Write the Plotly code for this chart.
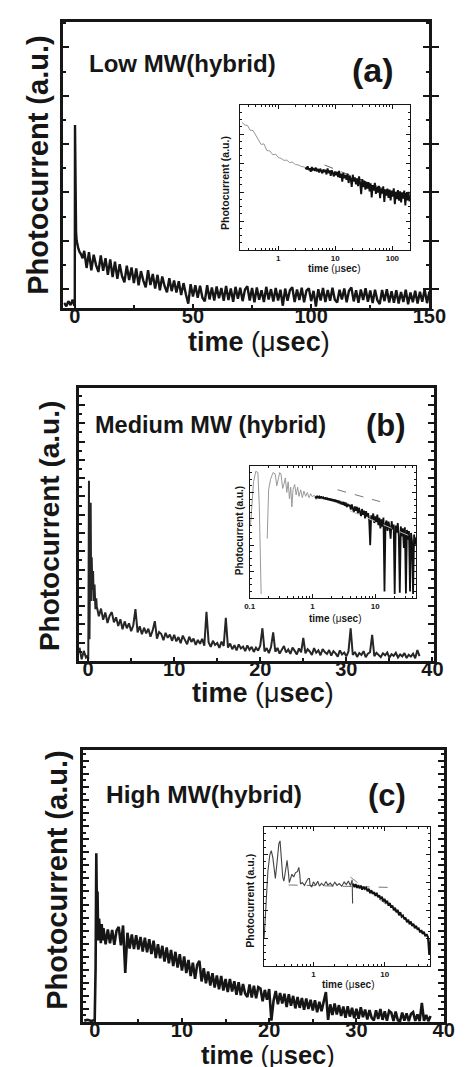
import numpy as np
import plotly.graph_objects as go

W, H = 465, 1067

# ---------------- DATA ----------------
# Panel (a) main trace (time in usec, photocurrent in arbitrary units 0-100)
t_a_early = [-4.5, -3.6, -2.7, -1.8, -0.9, -0.2, 0.0, 0.1, 0.2, 0.35, 0.55, 0.8, 1.1, 1.5, 2.0, 2.6, 3.3]
y_a_early = [1.8, 0.6, 2.4, 1.0, 2.9, 0.8, 1.0, 64.0, 40.0, 31.0, 26.5, 23.5, 22.0, 20.8, 19.6, 18.9, 17.4]
y_a_late = [
    20.0, 14.0, 19.5, 13.2, 18.6, 15.0, 12.6, 18.4, 13.0, 17.4,
    11.6, 17.0, 10.8, 16.2, 10.2, 15.3, 11.1, 9.0, 14.8, 9.8,
    14.2, 8.7, 13.8, 7.9, 12.9, 9.6, 7.2, 13.2, 8.0, 11.9,
    6.8, 11.6, 6.2, 11.0, 7.6, 5.5, 10.4, 5.9, 9.6, 5.4,
    9.4, 4.5, 8.7, 4.8, 1.5, 8.3, 4.0, 8.0, 3.6, 7.8,
    3.6, 2.3, 8.0, 3.0, 7.2, 2.6, 7.5, 3.4, 7.0, 2.5,
    7.7, 2.8, 6.8, 2.2, 7.4, 3.2, 7.1, 2.4, 6.5, 7.6,
    2.6, 7.0, 2.0, 7.2, 2.9, 6.2, 2.1, 7.4, 3.0, 6.6,
    2.3, 7.0, 2.6, 6.4, 0.8, 6.8, 2.5, 6.2, 7.3, 2.1,
    6.5, 2.8, 7.1, 2.0, 6.1, 6.9, 2.4, 6.0, 0.5, 6.6,
    2.6, 7.0, 2.1, 6.3, 2.5, 7.1, 2.9, 1.9, 6.4, 3.0,
    6.8, 2.0, 6.0, 7.2, 2.3, 6.2, 1.8, 6.5, 2.8, 6.9,
    2.2, 6.1, 1.7, 6.4, 2.7, 1.4, 6.3, 2.4, 6.6, 1.9,
    5.9, 1.8, 6.2, 1.6, 5.6, 2.1, 6.4, 1.3, 5.4, 2.0,
    6.0, 1.6, 5.7, 2.2, 6.6, 1.7, 5.8]
t_a_late = list(np.arange(4.0, 150.01, 1.0))

# Panel (a) inset (log time)
ti_a_early = [0.23, 0.26, 0.29, 0.32, 0.36, 0.40, 0.45, 0.50, 0.56, 0.63, 0.71, 0.80,
              0.90, 1.0, 1.12, 1.26, 1.41, 1.58, 1.78, 2.0, 2.24, 2.51, 2.82, 3.16]
yi_a_early = [88, 86.2, 85.8, 82.6, 82.4, 79.1, 76.4, 72.8, 73.2, 68.6, 68.3, 65.7,
              66.1, 63.8, 63.2, 61.8, 62.0, 60.3, 60.6, 58.9, 58.7, 57.6, 57.3, 56.2]
yi_a_late = [
    56.9, 55.6, 57.8, 55.1, 56.4, 53.9, 57.2, 55.3, 56.0, 54.6,
    56.8, 54.2, 55.9, 53.4, 56.1, 54.7, 52.9, 55.6, 53.8, 55.2,
    52.1, 56.3, 53.0, 54.9, 51.2, 55.0, 52.6, 50.8, 54.1, 51.5,
    53.9, 50.3, 54.6, 49.8, 52.7, 47.1, 53.2, 49.6, 51.8, 48.4,
    52.6, 46.2, 51.3, 49.0, 43.5, 51.9, 47.3, 50.1, 45.2, 49.4,
    44.1, 50.8, 46.0, 38.5, 48.9, 43.4, 47.7, 41.6, 47.0, 42.3,
    46.8, 40.5, 45.9, 36.2, 44.7, 41.0, 46.3, 38.7, 43.5, 39.6,
    44.2, 35.8, 42.6, 38.9, 43.9, 33.1, 41.8, 37.5, 42.4, 36.0,
    41.7, 34.2, 40.9, 36.8, 42.5, 31.6, 40.2, 35.1, 41.3, 34.0,
    40.4, 32.9, 39.8, 35.4, 41.0, 30.8, 39.3, 34.2, 40.1, 33.6]
ti_a_late = list(np.geomspace(3.0, 200.0, len(yi_a_late)))
fit_a_t = [6.5, 200]
fit_a_y = [58.6, 35.0]

# Panel (b) main trace
t_b_early = [-1.0, -0.75, -0.5, -0.25, -0.05, 0.02, 0.1, 0.16, 0.24, 0.3, 0.36, 0.42, 0.5, 0.58, 0.66, 0.75, 0.85, 0.95]
y_b_early = [4.9, 0.6, 3.7, 1.3, 2.0, 0.5, 66, 8, 40, 58, 22, 38, 26, 33, 22, 28, 19, 23]
y_b_late = [
    20.1, 16.4, 19.2, 15.1, 17.8, 13.9, 16.6, 17.9, 14.2, 16.0, 12.8, 15.3,
    11.6, 14.5, 12.0, 13.8, 10.9, 13.1, 19.0, 10.5, 12.7, 9.8, 12.2, 10.1,
    11.8, 8.9, 11.2, 14.6, 8.2, 10.6, 9.9, 7.6, 10.3, 8.5, 9.7, 7.4,
    9.6, 7.2, 8.8, 6.5, 9.3, 7.8, 6.1, 8.9, 7.0, 8.2, 5.9, 7.7,
    6.3, 8.1, 5.6, 18.0, 6.8, 5.2, 7.4, 5.9, 6.6, 4.8, 7.1, 5.5,
    15.8, 4.9, 6.4, 4.3, 5.8, 3.9, 6.1, 4.6, 5.3, 3.6, 5.7, 4.1,
    5.2, 3.3, 4.9, 3.8, 5.6, 12.0, 3.5, 4.7, 2.9, 5.1, 10.5, 3.4,
    4.8, 2.7, 4.4, 5.5, 3.1, 4.2, 2.6, 4.9, 3.7, 2.4, 4.6, 3.2,
    8.5, 2.8, 4.3, 3.5, 2.2, 4.7, 3.0, 3.9, 2.1, 4.4, 3.3, 2.6,
    4.0, 2.0, 3.6, 2.8, 1.6, 3.9, 2.4, 3.1, 1.7, 3.5, 12.0, 2.2,
    3.3, 1.5, 2.9, 2.2, 3.6, 1.4, 2.7, 3.2, 9.6, 1.8, 3.0, 2.3,
    1.4, 2.8, 2.1, 3.1, 1.2, 2.5, 1.9, 3.0, 1.3, 2.4, 1.7, 2.9,
    1.1, 2.3, 1.6, 2.7, 1.0, 4.0, 1.8]
t_b_late = list(np.arange(1.0, 38.51, 0.25))

# Panel (b) inset
ti_b_early = [0.103, 0.115, 0.125, 0.135, 0.142, 0.148, 0.152, None, 0.19, 0.192, 0.2, 0.215,
              0.235, 0.255, 0.27, 0.285, 0.3, 0.315, 0.335, 0.35, 0.37, 0.39, 0.41, 0.43,
              0.45, 0.47, 0.49, 0.52, 0.55, 0.58, 0.61, 0.65, 0.69, 0.73, 0.78, 0.83,
              0.88, 0.94, 1.0, 1.07, 1.15]
yi_b_early = [55, 88, 96, 95, 70, 20, 3, None, 45, 60, 82, 90,
              95, 94, 85, 90, 95, 94, 83, 86, 91, 80, 88, 75,
              84, 69, 82, 86, 78, 84, 77, 82, 76, 81, 77, 80,
              76, 79, 76.5, 78, 76]
yi_b_late = [
    76.9, 75.8, 77.3, 76.0, 76.8, 75.4, 77.0, 75.7, 76.3, 74.9,
    76.2, 74.6, 75.9, 74.1, 75.5, 73.8, 75.2, 73.4, 74.8, 72.9,
    74.6, 72.5, 74.0, 71.8, 73.7, 71.2, 72.9, 70.6, 72.8, 69.9,
    72.3, 68.8, 71.4, 69.5, 70.6, 66.9, 70.9, 67.8, 65.0, 69.4,
    66.0, 69.1, 64.2, 68.3, 65.5, 62.1, 67.4, 63.0, 66.2, 60.4,
    65.8, 61.7, 64.3, 58.9, 40.0, 62.6, 59.4, 64.0, 56.8, 61.9,
    57.5, 63.1, 55.2, 60.8, 52.7, 59.6, 54.1, 61.0, 5.0, 56.3,
    58.7, 50.9, 57.9, 53.6, 45.0, 58.2, 52.0, 55.7, 3.0, 54.9,
    49.5, 56.8, 47.3, 4.0, 54.2, 46.6, 52.8, 38.0, 53.5, 3.5,
    51.6, 44.2, 50.7, 5.0, 49.3, 42.9, 3.0, 48.1, 40.5, 46.0]
ti_b_late = list(np.geomspace(1.1, 45.0, len(yi_b_late)))
fit_b1_t = [2.5, 12.0]
fit_b1_y = [82.0, 73.0]
fit_b2_t = [4.0, 45.0]
fit_b2_y = [66.0, 45.0]

# Panel (c) main trace
t_c_early = [-1.2, -0.8, -0.4, -0.1, 0.0, 0.1, 0.18, 0.25, 0.32, 0.4, 0.5, 0.6, 0.7, 0.8, 0.9]
y_c_early = [0.5, 0.8, 0.4, 0.6, 1.0, 20, 62, 40, 48, 30, 38, 33, 29, 36, 30]
y_c_late = [
    34.5, 28.6, 34.0, 28.9, 33.8, 28.4, 33.6, 35.0, 28.2, 35.5, 18.0, 32.8,
    27.0, 32.2, 26.8, 31.9, 26.6, 31.3, 25.9, 31.0, 25.6, 30.4, 25.0, 29.9,
    23.5, 28.6, 23.4, 28.0, 22.2, 27.4, 21.6, 26.5, 20.6, 25.8, 20.0, 24.9,
    18.9, 24.1, 18.0, 22.8, 16.9, 21.8, 15.9, 21.0, 22.5, 14.9, 19.8, 14.2,
    18.6, 13.4, 17.9, 12.7, 17.1, 12.0, 16.9, 11.6, 15.8, 11.0, 15.8, 11.2,
    15.0, 10.0, 14.6, 9.8, 14.0, 10.4, 9.2, 13.8, 9.0, 13.3, 8.7, 12.8,
    12.3, 7.6, 11.8, 8.2, 12.1, 0.5, 7.8, 11.4, 6.5, 10.7, 6.8, 10.4,
    5.5, 10.2, 6.0, 9.6, 5.0, 9.2, 5.2, 8.8, 4.5, 8.6, 4.8, 8.2,
    4.2, 8.0, 3.6, 7.4, 4.0, 7.8, 11.0, 0.8, 6.5, 2.6, 6.8, 2.8,
    6.2, 2.2, 5.7, 1.6, 5.8, 2.0, 5.2, 1.4, 4.9, 1.2, 5.4, 1.8,
    4.6, 0.9, 4.4, 1.5, 0.6, 4.3, 1.1, 4.8, 0.8, 3.9, 0.5, 4.1,
    3.4, 0.4, 3.8, 0.6, 0.3, 3.5, 0.5, 3.2, 0.3, 2.9, 3.6, 0.4,
    2.8, 0.3, 7.0, 0.4, 2.6, 0.3, 2.2]
t_c_late = list(np.arange(1.0, 38.51, 0.25))

# Panel (c) inset
ti_c_early = [0.204, 0.215, 0.23, 0.245, 0.257, 0.27, 0.283, 0.293, 0.31, 0.328, 0.341, 0.355,
              0.372, 0.386, 0.405, 0.428, 0.445, 0.46, 0.48, 0.5, 0.53, 0.56, 0.6, 0.625,
              0.645, 0.66, 0.7, 0.75, 0.8, 0.85, 0.88, 0.9, 0.95, 1.0, 1.08, 1.15,
              1.22, 1.3, 1.4, 1.5, 1.6, 1.72, 1.85, 2.0, 2.15, 2.3, 2.5, 2.7,
              2.9, 3.1, 3.3, 3.5, 3.55]
yi_c_early = [20, 45, 68, 80, 83, 78, 66, 63, 75, 88, 90, 80,
              64, 61, 70, 76, 68, 60, 63, 66, 64, 67, 68, 71,
              66, 59, 60, 58, 61, 63, 63, 58, 57, 60.5, 58, 61,
              57.5, 59.5, 57.8, 60.8, 58.2, 59.6, 57.6, 60.2, 58.0, 59.3, 57.4, 60.4,
              58.6, 61.2, 57.8, 62, 45]
yi_c_late = [
    59.2, 56.8, 58.9, 56.2, 58.1, 55.9, 57.8, 54.9, 57.0, 55.4,
    56.3, 53.8, 55.6, 52.4, 54.5, 51.9, 53.2, 50.4, 52.6, 49.5,
    50.8, 48.1, 49.9, 46.5, 48.3, 45.2, 46.9, 43.4, 45.3, 42.0,
    43.6, 40.1, 41.9, 38.6, 40.4, 36.5, 38.7, 35.4, 36.3, 33.6,
    34.8, 31.5, 33.4, 30.0, 32.1, 28.7, 30.4, 27.2, 28.9, 26.5,
    27.0, 24.2, 25.8, 23.1, 24.6, 21.4, 22.9, 20.8, 8.0, 19.5]
ti_c_late = list(np.geomspace(3.6, 44.0, len(yi_c_late)))
fit_c1_t = [0.45, 12.5]
fit_c1_y = [58.3, 56.5]
fit_c2_t = [3.3, 44.0]
fit_c2_y = [64.0, 20.0]

# ---------------- FIGURE ----------------
def fx(p):
    return p / W

def fy(p):
    return 1 - p / H

INK = "#161616"
FONT = "Liberation Sans, Arial, sans-serif"

fig = go.Figure()

def line(x, y, xa, ya, color=INK, width=1.5, dash="solid"):
    fig.add_trace(go.Scatter(x=x, y=y, xaxis=xa, yaxis=ya, mode="lines",
                             line=dict(color=color, width=width, dash=dash),
                             connectgaps=False, showlegend=False, hoverinfo="skip"))

# panel a
line(t_a_early + t_a_late, y_a_early + y_a_late, "x", "y", INK, 2.4)
line(fit_a_t, fit_a_y, "x2", "y2", "#666", 1.0, "dash")
line(ti_a_early, yi_a_early, "x2", "y2", "#8a8a8a", 0.9)
line(ti_a_late, yi_a_late, "x2", "y2", "#111", 1.9)
# panel b
line(t_b_early + t_b_late, y_b_early + y_b_late, "x3", "y3", "#262626", 2.0)
line(fit_b1_t, fit_b1_y, "x4", "y4", "#777", 1.0, "dash")
line(ti_b_early, yi_b_early, "x4", "y4", "#999", 1.0)
line(ti_b_late, yi_b_late, "x4", "y4", "#111", 1.8)
line(fit_b2_t, fit_b2_y, "x4", "y4", "#bbb", 1.0, "dash")
# panel c
line(t_c_early + t_c_late, y_c_early + y_c_late, "x5", "y5", INK, 2.6)
line(fit_c1_t, fit_c1_y, "x6", "y6", "#777", 1.0, "dash")
line(fit_c2_t, fit_c2_y, "x6", "y6", "#888", 1.0, "dash")
line(ti_c_early, yi_c_early, "x6", "y6", "#444", 1.1)
line(ti_c_late, yi_c_late, "x6", "y6", "#111", 1.9)

bold_tick = dict(family=FONT, size=20, color=INK, weight="bold")
small_tick = dict(family=FONT, size=8, color=INK, weight="bold")

def main_x(dom, rng, dt, anchor):
    return dict(domain=[fx(dom[0]), fx(dom[1])], range=rng, anchor=anchor,
                showline=True, linewidth=3, linecolor=INK, mirror=True,
                ticks="inside", ticklen=4, tickwidth=2, tickcolor=INK,
                tick0=0, dtick=dt, tickfont=bold_tick, ticklabelstandoff=-12,
                minor=dict(ticks="inside", ticklen=3, tickwidth=2, tickcolor=INK,
                           tick0=0, dtick=dt / 2),
                showgrid=False, zeroline=False)

def main_y(dom, anchor, tick0, dtick):
    return dict(domain=[fy(dom[1]), fy(dom[0])], range=[0, 100], anchor=anchor,
                showline=True, linewidth=3, linecolor=INK, mirror="ticks",
                ticks="inside", ticklen=6, tickwidth=2, tickcolor=INK,
                tick0=tick0, dtick=dtick, showticklabels=False,
                minor=dict(ticks="inside", ticklen=3, tickwidth=1.5, tickcolor=INK,
                           tick0=tick0 - dtick / 2, dtick=dtick / 2),
                showgrid=False, zeroline=False)

def inset_x(dom, rng, vals, texts, anchor):
    return dict(domain=[fx(dom[0]), fx(dom[1])], type="log", range=rng, anchor=anchor,
                showline=True, linewidth=1.2, linecolor=INK, mirror="ticks",
                ticks="inside", ticklen=4, tickwidth=1, tickcolor=INK,
                tickvals=vals, ticktext=texts, tickfont=small_tick,
                minor=dict(ticks="inside", ticklen=2, tickwidth=0.8, tickcolor=INK, dtick="D1"),
                showgrid=False, zeroline=False)

def inset_y(dom, anchor):
    return dict(domain=[fy(dom[1]), fy(dom[0])], range=[0, 100], anchor=anchor,
                showline=True, linewidth=1.2, linecolor=INK, mirror="ticks",
                ticks="inside", ticklen=4, tickwidth=1, tickcolor=INK,
                tick0=0, dtick=20, showticklabels=False,
                minor=dict(ticks="inside", ticklen=2, tickwidth=0.8, tickcolor=INK, dtick=5),
                showgrid=False, zeroline=False)

layout = dict(
    width=W, height=H, autosize=False,
    margin=dict(l=0, r=0, t=0, b=0),
    paper_bgcolor="white", plot_bgcolor="rgba(0,0,0,0)",
    showlegend=False,
    xaxis=main_x((52, 437), [-4.8, 150], 50, "y"),
    yaxis=main_y((14, 300), "x", 6.6, 16.9),
    xaxis2=inset_x((238, 417), [np.log10(0.215), np.log10(207)], [1, 10, 100], ["1", "10", "100"], "y2"),
    yaxis2=inset_y((97, 242), "x2"),
    xaxis3=main_x((68, 442), [-1.1, 40.2], 10, "y3"),
    yaxis3=main_y((380, 653), "x3", 0, 6.7),
    xaxis4=inset_x((248, 423), [-1.0, np.log10(44.9)], [0.1, 1, 10], ["0.1", "1", "10"], "y4"),
    yaxis4=inset_y((458, 590), "x4"),
    xaxis5=main_x((73, 452), [-1.3, 40.0], 10, "y5"),
    yaxis5=main_y((742, 1014), "x5", 0, 4.8),
    xaxis6=inset_x((263, 438), [np.log10(0.203), np.log10(43.7)], [1, 10], ["1", "10"], "y6"),
    yaxis6=inset_y((819, 958), "x6"),
    yaxis7=dict(overlaying="y", side="right", anchor="x", range=[0, 100],
                ticks="outside", ticklen=9, tickwidth=2, tickcolor=INK,
                tick0=6.6, dtick=16.9, showticklabels=False,
                showline=False, showgrid=False, zeroline=False),
)
fig.update_layout(**layout)
# dummy invisible trace so overlay axis renders
fig.add_trace(go.Scatter(x=[None], y=[None], xaxis="x", yaxis="y7", showlegend=False))

ann = []
def text(s, x, y, size, angle=0, xanchor="center"):
    ann.append(dict(text=s, x=fx(x), y=fy(y), xref="paper", yref="paper",
                    showarrow=False, textangle=angle, xanchor=xanchor, yanchor="middle",
                    font=dict(family=FONT, size=size, color=INK)))

XT = "<b>time </b>(μ<b>sec</b>)"
YT = "<b>Photocurrent (a.u.)</b>"
# panel a
text(YT, 25, 157, 29, -90)
text(XT, 258, 334, 27)
text("<b>Low MW(hybrid)</b>", 77, 55, 24, xanchor="left")
text("<b>(a)</b>", 353, 62, 34, xanchor="left")
text(YT, 222, 175, 10.5, -90)
text(XT, 337, 260, 10)
# panel b
text(YT, 38, 518, 28, -90)
text(XT, 262, 685, 27)
text("<b>Medium MW (hybrid)</b>", 83, 417, 23.5, xanchor="left")
text("<b>(b)</b>", 368, 418, 31, xanchor="left")
text(YT, 237, 523, 10, -90)
text(XT, 338, 610, 10)
# panel c
text(YT, 45, 872, 29, -90)
text(XT, 267, 1047, 25.5)
text("<b>High MW(hybrid)</b>", 95, 786, 24.5, xanchor="left")
text("<b>(c)</b>", 370, 787, 31, xanchor="left")
text(YT, 248, 893, 10.5, -90)
text(XT, 351, 976, 10)

fig.update_layout(annotations=ann)
fig.write_html("out.html")
